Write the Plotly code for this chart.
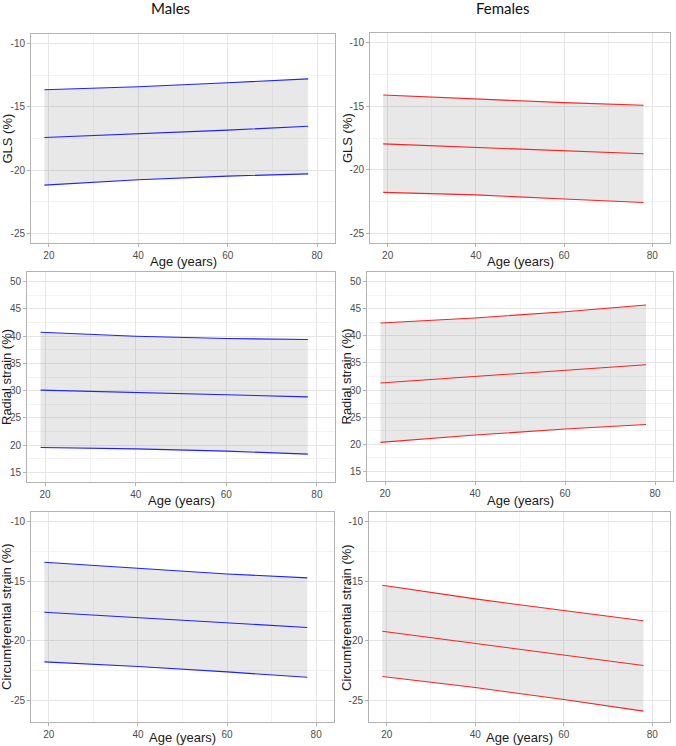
import plotly.graph_objects as go

W, H = 676, 746

ages = [19, 40, 60, 78]

# Males
m_gls_upper = [-13.65, -13.42, -13.10, -12.79]
m_gls_mid = [-17.42, -17.13, -16.84, -16.53]
m_gls_lower = [-21.18, -20.76, -20.47, -20.29]
m_rad_upper = [40.71, 39.98, 39.55, 39.37]
m_rad_mid = [30.09, 29.66, 29.29, 28.86]
m_rad_lower = [19.58, 19.33, 18.91, 18.36]
m_circ_upper = [-13.41, -13.94, -14.39, -14.72]
m_circ_mid = [-17.60, -18.07, -18.49, -18.88]
m_circ_lower = [-21.76, -22.15, -22.60, -23.05]

# Females
f_gls_upper = [-14.12, -14.44, -14.72, -14.93]
f_gls_mid = [-17.96, -18.22, -18.48, -18.74]
f_gls_lower = [-21.77, -21.97, -22.29, -22.57]
f_rad_upper = [42.36, 43.28, 44.44, 45.66]
f_rad_mid = [31.31, 32.47, 33.63, 34.67]
f_rad_lower = [20.37, 21.72, 22.82, 23.67]
f_circ_upper = [-15.34, -16.48, -17.46, -18.32]
f_circ_mid = [-19.19, -20.20, -21.20, -22.07]
f_circ_lower = [-22.99, -23.91, -24.92, -25.89]

column_titles = ["Males", "Females"]
y_titles = ["GLS (%)", "Radial strain (%)", "Circumferential strain (%)"]
x_title = "Age (years)"

x_ticks = [20, 40, 60, 80]
y_ticks_gls = [-25, -20, -15, -10]
y_ticks_rad = [15, 20, 25, 30, 35, 40, 45, 50]

panels = [
    ((31, 335, 34, 243), (m_gls_lower, m_gls_upper, m_gls_mid), "#2020ff", [-25.75, -9.25], y_ticks_gls, y_titles[0], 7),
    ((370, 670, 33, 243), (f_gls_lower, f_gls_upper, f_gls_mid), "#ff2020", [-25.75, -9.25], y_ticks_gls, y_titles[0], 347),
    ((27, 335, 272, 482), (m_rad_lower, m_rad_upper, m_rad_mid), "#2020ff", [13.25, 51.75], y_ticks_rad, y_titles[1], 6),
    ((367, 673, 272, 481), (f_rad_lower, f_rad_upper, f_rad_mid), "#ff2020", [13.25, 51.75], y_ticks_rad, y_titles[1], 346),
    ((31, 334, 512, 722), (m_circ_lower, m_circ_upper, m_circ_mid), "#2020ff", [-26.8, -9.2], y_ticks_gls, y_titles[2], 6),
    ((369, 670, 512, 722), (f_circ_lower, f_circ_upper, f_circ_mid), "#ff2020", [-26.8, -9.2], y_ticks_gls, y_titles[2], 346),
]
xtitle_y = [261, 261, 500, 500, 737, 737]

fig = go.Figure()
annotations = []
tick_font = dict(family="Arial", size=10, color="#4d4d4d")
title_font = dict(family="Arial", size=13, color="#1a1a1a")

for i, (box, series, color, yr, yt, ytitle, ytx) in enumerate(panels):
    x0, x1, y0, y1 = box
    n = "" if i == 0 else str(i + 1)
    xa, ya = "x" + n, "y" + n
    lower, upper, mid = series
    fig.add_trace(go.Scatter(x=ages, y=lower, mode="lines", line=dict(color=color, width=1.1),
                             xaxis=xa, yaxis=ya, showlegend=False, hoverinfo="skip"))
    fig.add_trace(go.Scatter(x=ages, y=upper, mode="lines", line=dict(color=color, width=1.1),
                             fill="tonexty", fillcolor="rgba(128,128,128,0.18)",
                             xaxis=xa, yaxis=ya, showlegend=False, hoverinfo="skip"))
    fig.add_trace(go.Scatter(x=ages, y=mid, mode="lines", line=dict(color=color, width=1.1),
                             xaxis=xa, yaxis=ya, showlegend=False, hoverinfo="skip"))
    common = dict(showline=True, mirror=True, linecolor="#b3b3b3", linewidth=1,
                  ticks="outside", ticklen=3, tickcolor="#b3b3b3", tickwidth=1,
                  tickfont=tick_font, showgrid=True, gridcolor="#e6e6e6", gridwidth=1,
                  zeroline=False, fixedrange=True)
    fig.layout["xaxis" + n] = dict(
        domain=[x0 / W, x1 / W], anchor=ya, range=[16, 84], tickvals=x_ticks,
        ticktext=[str(v) for v in x_ticks],
        minor=dict(dtick=10, tick0=0, showgrid=True, gridcolor="#f3f3f3", ticks=""),
        **common)
    fig.layout["yaxis" + n] = dict(
        domain=[1 - y1 / H, 1 - y0 / H], anchor=xa, range=yr, tickvals=yt,
        ticktext=[str(v) for v in yt],
        minor=dict(dtick=2.5, tick0=0, showgrid=True, gridcolor="#f3f3f3", ticks=""),
        **common)
    annotations.append(dict(text=ytitle, x=ytx / W, y=1 - (y0 + y1) / 2 / H, xref="paper", yref="paper",
                            textangle=-90, showarrow=False, xanchor="center", yanchor="middle",
                            font=title_font))
    annotations.append(dict(text=x_title, x=(x0 + x1) / 2 / W, y=1 - xtitle_y[i] / H, xref="paper",
                            yref="paper", showarrow=False, xanchor="center", yanchor="middle",
                            font=title_font))

header_font = dict(family="Lato, Open Sans, sans-serif", size=15, color="#111111")
annotations.append(dict(text=column_titles[0], x=170 / W, y=1 - 8 / H, xref="paper", yref="paper",
                        showarrow=False, xanchor="center", yanchor="middle", font=header_font))
annotations.append(dict(text=column_titles[1], x=503 / W, y=1 - 8 / H, xref="paper", yref="paper",
                        showarrow=False, xanchor="center", yanchor="middle", font=header_font))

fig.update_layout(width=W, height=H, margin=dict(l=0, r=0, t=0, b=0),
                  paper_bgcolor="white", plot_bgcolor="white", annotations=annotations,
                  showlegend=False)

fig.write_html("out.html", config={"displayModeBar": False})
